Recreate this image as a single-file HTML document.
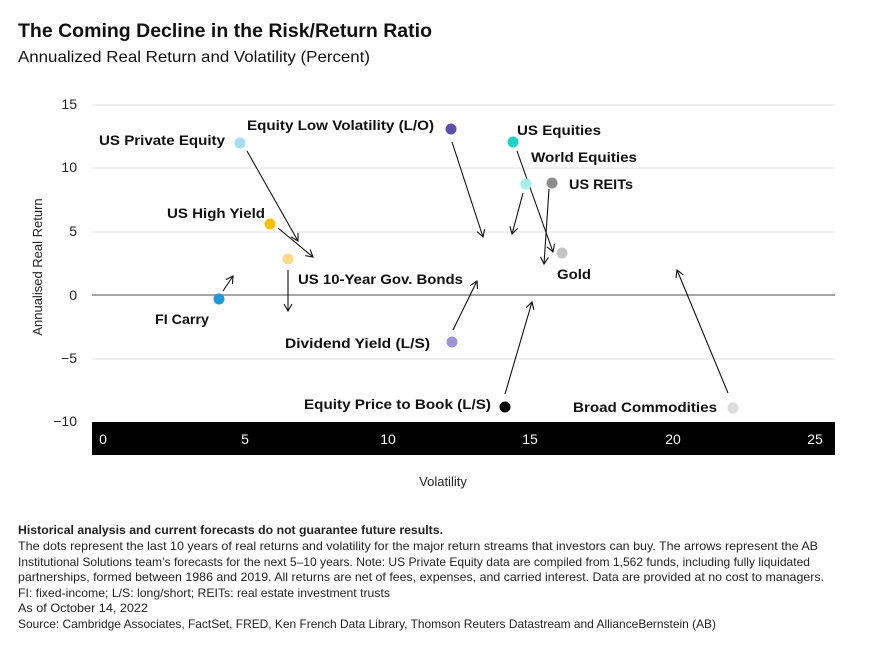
<!DOCTYPE html>
<html><head><meta charset="utf-8"><style>
html,body{margin:0;padding:0;background:#fff;}
svg{display:block;font-family:"Liberation Sans",sans-serif;}
.l{font-weight:bold;font-size:14px;fill:#111;}
.f{font-size:12px;fill:#222;}
</style></head><body>
<svg width="870" height="645" viewBox="0 0 870 645">
<defs><marker id="a" markerWidth="10" markerHeight="10" refX="8" refY="5" orient="auto" markerUnits="userSpaceOnUse"><path d="M1,1 L8,5 L1,9" fill="none" stroke="#111" stroke-width="1.1"/></marker></defs>
<text x="18" y="37" font-size="19" font-weight="bold" fill="#111" textLength="414" lengthAdjust="spacingAndGlyphs">The Coming Decline in the Risk/Return Ratio</text>
<text x="18" y="62" font-size="16" fill="#111" textLength="352" lengthAdjust="spacingAndGlyphs">Annualized Real Return and Volatility (Percent)</text>
<g stroke="#e2e2e2" stroke-width="1">
<line x1="92" x2="835" y1="105" y2="105"/><line x1="92" x2="835" y1="168" y2="168"/><line x1="92" x2="835" y1="232" y2="232"/><line x1="92" x2="835" y1="359" y2="359"/>
</g>
<line x1="92" x2="835" y1="295" y2="295" stroke="#888" stroke-width="1.5"/>
<rect x="92" y="422" width="743" height="33" fill="#000"/>
<g font-size="14" fill="#fff" text-anchor="middle">
<text x="103" y="444">0</text><text x="245" y="444">5</text><text x="388" y="444">10</text><text x="530" y="444">15</text><text x="673" y="444">20</text><text x="815" y="444">25</text>
</g>
<g font-size="14" fill="#222" text-anchor="end">
<text x="77" y="109">15</text><text x="77" y="172">10</text><text x="77" y="236">5</text><text x="77" y="300">0</text><text x="77" y="363">−5</text><text x="77" y="426">−10</text>
</g>
<text transform="translate(42,267) rotate(-90)" font-size="13" fill="#222" text-anchor="middle">Annualised Real Return</text>
<text x="443" y="486" font-size="13" fill="#222" text-anchor="middle">Volatility</text>
<g stroke="#111" stroke-width="1.1" marker-end="url(#a)">
<line x1="247" y1="151" x2="298" y2="241"/>
<line x1="452" y1="142" x2="483" y2="237"/>
<line x1="278" y1="228" x2="313" y2="257"/>
<line x1="288" y1="270" x2="288" y2="311"/>
<line x1="223" y1="291" x2="233" y2="276"/>
<line x1="453" y1="330" x2="477" y2="281"/>
<line x1="517" y1="151" x2="553" y2="252"/>
<line x1="523" y1="193" x2="512" y2="234"/>
<line x1="549" y1="189" x2="544" y2="264"/>
<line x1="505" y1="394" x2="532" y2="302"/>
<line x1="728" y1="393" x2="677" y2="270"/>
</g>
<circle cx="240" cy="143" r="5.5" fill="#a6dcf4"/>
<circle cx="451" cy="129" r="5.5" fill="#5b4fb0"/>
<circle cx="270" cy="224" r="5.5" fill="#fcc000"/>
<circle cx="288" cy="259" r="5.5" fill="#fddb86"/>
<circle cx="219" cy="299" r="5.5" fill="#1f9ad6"/>
<circle cx="452" cy="342" r="5.5" fill="#9d92d4"/>
<circle cx="513" cy="142" r="5.5" fill="#1fd3c0"/>
<circle cx="526" cy="184" r="5.5" fill="#a5f0e6"/>
<circle cx="552" cy="183" r="5.5" fill="#8c8c8c"/>
<circle cx="562" cy="253" r="5.5" fill="#c4c4c4"/>
<circle cx="505" cy="407" r="5.5" fill="#000"/>
<circle cx="733" cy="408" r="5.5" fill="#dcdcdc"/>
<text class="l" x="99" y="145" textLength="126" lengthAdjust="spacingAndGlyphs">US Private Equity</text>
<text class="l" x="247" y="130" textLength="187" lengthAdjust="spacingAndGlyphs">Equity Low Volatility (L/O)</text>
<text class="l" x="517" y="135" textLength="84" lengthAdjust="spacingAndGlyphs">US Equities</text>
<text class="l" x="531" y="162" textLength="106" lengthAdjust="spacingAndGlyphs">World Equities</text>
<text class="l" x="569" y="189" textLength="64" lengthAdjust="spacingAndGlyphs">US REITs</text>
<text class="l" x="167" y="218" textLength="98" lengthAdjust="spacingAndGlyphs">US High Yield</text>
<text class="l" x="298" y="284" textLength="165" lengthAdjust="spacingAndGlyphs">US 10-Year Gov. Bonds</text>
<text class="l" x="557" y="279" textLength="34" lengthAdjust="spacingAndGlyphs">Gold</text>
<text class="l" x="155" y="324" textLength="54" lengthAdjust="spacingAndGlyphs">FI Carry</text>
<text class="l" x="285" y="348" textLength="145" lengthAdjust="spacingAndGlyphs">Dividend Yield (L/S)</text>
<text class="l" x="304" y="409" textLength="187" lengthAdjust="spacingAndGlyphs">Equity Price to Book (L/S)</text>
<text class="l" x="573" y="412" textLength="144" lengthAdjust="spacingAndGlyphs">Broad Commodities</text>
<text class="f" x="18" y="534" font-weight="bold" fill="#111" textLength="425" lengthAdjust="spacingAndGlyphs">Historical analysis and current forecasts do not guarantee future results.</text>
<text class="f" x="18" y="550" textLength="800" lengthAdjust="spacingAndGlyphs">The dots represent the last 10 years of real returns and volatility for the major return streams that investors can buy. The arrows represent the AB</text>
<text class="f" x="18" y="566" textLength="792" lengthAdjust="spacingAndGlyphs">Institutional Solutions team’s forecasts for the next 5–10 years. Note: US Private Equity data are compiled from 1,562 funds, including fully liquidated</text>
<text class="f" x="18" y="581" textLength="806" lengthAdjust="spacingAndGlyphs">partnerships, formed between 1986 and 2019. All returns are net of fees, expenses, and carried interest. Data are provided at no cost to managers.</text>
<text class="f" x="18" y="597" textLength="372" lengthAdjust="spacingAndGlyphs">FI: fixed-income; L/S: long/short; REITs: real estate investment trusts</text>
<text class="f" x="18" y="612" textLength="130" lengthAdjust="spacingAndGlyphs">As of  October 14, 2022</text>
<text class="f" x="18" y="628" textLength="698" lengthAdjust="spacingAndGlyphs">Source: Cambridge Associates, FactSet, FRED, Ken French Data Library, Thomson Reuters Datastream and AllianceBernstein (AB)</text>
</svg>
</body></html>
